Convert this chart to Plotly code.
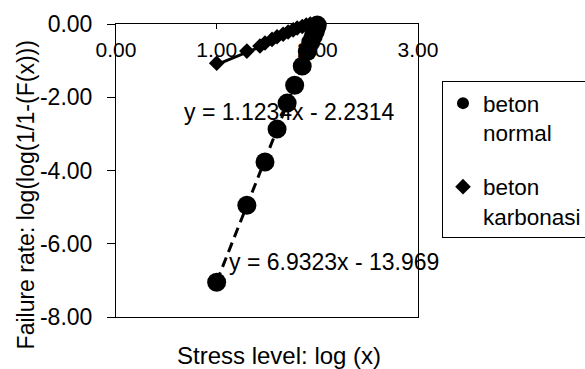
import plotly.graph_objects as go

# --- data ---
normal_x = [1.00, 1.30, 1.48, 1.60, 1.70, 1.775, 1.85, 1.90, 1.935, 1.96, 1.98, 1.99, 2.00]
normal_y = [-7.05, -4.95, -3.77, -2.87, -2.16, -1.67, -1.15, -0.75, -0.50, -0.33, -0.20, -0.10, -0.03]

karb_x = [1.00, 1.30, 1.43, 1.48, 1.55, 1.60, 1.66, 1.71, 1.76, 1.80, 1.85, 1.89, 1.93, 1.96]
karb_y = [-1.07, -0.74, -0.60, -0.52, -0.42, -0.35, -0.28, -0.22, -0.16, -0.11, -0.07, -0.03, 0.00, 0.02]

normal_slope, normal_intercept = 6.9323, -13.969
karb_slope, karb_intercept = 1.1234, -2.2314

x_tickvals = [0, 1, 2, 3]
x_ticktext = ["0.00", "1.00", "2.00", "3.00"]
y_tickvals = [0, -2, -4, -6, -8]
y_ticktext = ["0.00", "-2.00", "-4.00", "-6.00", "-8.00"]

FONT = "Liberation Sans, Arial, sans-serif"

def trend(xs, a, b):
    lo, hi = min(xs), max(xs)
    return [lo, hi], [a * lo + b, a * hi + b]

fig = go.Figure()

tx, ty = trend(normal_x, normal_slope, normal_intercept)
fig.add_trace(go.Scatter(x=tx, y=ty, mode="lines", showlegend=False, hoverinfo="skip",
                         line=dict(color="black", width=3, dash="10px,6px"), cliponaxis=False))
tx, ty = trend(karb_x, karb_slope, karb_intercept)
fig.add_trace(go.Scatter(x=tx, y=ty, mode="lines", showlegend=False, hoverinfo="skip",
                         line=dict(color="black", width=3), cliponaxis=False))

fig.add_trace(go.Scatter(x=normal_x, y=normal_y, mode="markers", name="beton<br>normal",
                         legendgroup="a",
                         marker=dict(symbol="circle", size=19, color="black"), cliponaxis=False))
fig.add_trace(go.Scatter(x=karb_x, y=karb_y, mode="markers", name="beton<br>karbonasi",
                         legendgroup="b",
                         marker=dict(symbol="diamond", size=12, color="black"), cliponaxis=False))

fig.update_layout(
    width=585, height=369,
    margin=dict(l=116, r=167, t=24, b=52, autoexpand=False),
    paper_bgcolor="white", plot_bgcolor="white",
    font=dict(family=FONT, color="black"),
    legend=dict(xref="container", yref="container", x=442 / 585, y=1 - 81 / 369,
                xanchor="left", yanchor="top",
                bordercolor="black", borderwidth=1, font=dict(size=22.5, color="black"),
                valign="top", traceorder="grouped", tracegroupgap=22,
                itemsizing="constant"),
    annotations=[
        dict(x=1.72, y=-2.40, xref="x", yref="y", text="y = 1.1234x - 2.2314",
             showarrow=False, font=dict(size=23, color="black")),
        dict(x=2.17, y=-6.50, xref="x", yref="y", text="y = 6.9323x - 13.969",
             showarrow=False, font=dict(size=23, color="black")),
        dict(x=0.54, y=-0.13, xref="paper", yref="paper", text="Stress level: log (x)",
             showarrow=False, font=dict(size=24, color="black"), yanchor="middle"),
        dict(x=-0.298, y=0.415, xref="paper", yref="paper",
             text="Failure rate: log(log(1/1-(F(x)))", textangle=-90,
             showarrow=False, font=dict(size=23, color="black"), xanchor="center", yanchor="middle"),
    ],
)

fig.update_xaxes(range=[0, 3], side="top", tickvals=x_tickvals, ticktext=x_ticktext,
                 ticks="inside", ticklen=5, tickcolor="black",
                 ticklabelposition="inside", ticklabelstandoff=15, ticklabeloverflow="allow",
                 tickfont=dict(size=21, color="black"), automargin=False,
                 showline=True, linecolor="black", linewidth=1, mirror=True,
                 showgrid=False, zeroline=False)
fig.update_yaxes(range=[-8, 0], tickvals=y_tickvals, ticktext=y_ticktext,
                 ticks="outside", ticklen=8, tickcolor="black", ticklabelstandoff=10,
                 ticklabeloverflow="allow", automargin=False,
                 tickfont=dict(size=23, color="black"),
                 showline=True, linecolor="black", linewidth=1, mirror=True,
                 showgrid=False, zeroline=False)

fig.write_html("out.html",
               config={"displayModeBar": False},
               post_script="document.body.style.margin='0';document.body.style.overflow='hidden';")
